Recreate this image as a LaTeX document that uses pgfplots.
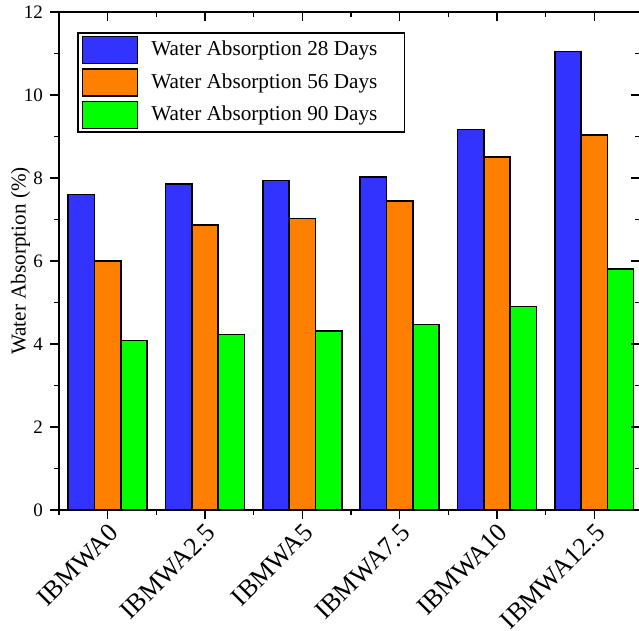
\documentclass[border=0pt]{standalone}
\usepackage{pgfplots}
\pgfplotsset{compat=1.18}
\usepackage{fontspec}
\setmainfont{Liberation Serif}
\usetikzlibrary{calc}
\definecolor{c28}{RGB}{51,51,255}
\definecolor{c56}{RGB}{255,128,0}
\definecolor{c90}{RGB}{0,255,0}

\begin{document}
\begin{tikzpicture}
\pgfplotsset{
  frame/.style={
    scale only axis, width=290.5pt, height=249pt,
    xmin=-0.5, xmax=5.47, ymin=0, ymax=12,
    xtick={0,...,5}, minor xtick={-0.5,0.5,...,5.5},
    ytick={0,2,...,12}, minor ytick={1,3,...,11},
    major tick length=4.5pt, minor tick length=2.5pt,
    axis line style={line width=0.75pt},
    every tick/.style={line width=0.75pt, black},
  },
  box legend/.style={legend image code/.code={
    \draw[##1, line width=0.7pt] (0pt,-6.75pt) rectangle (27.5pt,6.75pt);}},
}
\begin{axis}[frame, name=main,
    ybar, bar width=0.27,
    tick align=outside, xtick pos=left, ytick pos=left,
    xticklabels={IBMWA0,IBMWA2.5,IBMWA5,IBMWA7.5,IBMWA10,IBMWA12.5},
    xticklabel style={rotate=45, anchor=north east, inner sep=1pt,
      font=\fontsize{13}{15}\selectfont},
    yticklabel style={font=\fontsize{9.5}{11}\selectfont},
    /pgf/number format/assume math mode=true,
    ylabel={Water Absorption (\%)},
    ylabel style={font=\fontsize{10.6}{12}\selectfont},
    ylabel shift=-10pt,
    legend cell align=left,
    legend style={at={(0.031,0.96)}, anchor=north west, draw=black,
      line width=0.9pt, font=\fontsize{10.6}{12}\selectfont,
      inner xsep=2pt, inner ysep=1.5pt, row sep=2pt,
      nodes={inner xsep=6.5pt}},
  ]
  % 28 days
  \addplot[box legend, fill=c28, draw=black, line width=0.8pt, bar shift=-0.27]
    coordinates {(0,7.60) (1,7.85) (2,7.94) (3,8.03) (4,9.17) (5,11.05)};
  \addlegendentry{Water Absorption 28 Days\kern5pt}
  % 56 days
  \addplot[box legend, fill=c56, draw=black, line width=0.8pt, bar shift=0]
    coordinates {(0,6.00) (1,6.87) (2,7.02) (3,7.45) (4,8.51) (5,9.03)};
  \addlegendentry{Water Absorption 56 Days\kern5pt}
  % 90 days
  \addplot[box legend, fill=c90, draw=black, line width=0.8pt, bar shift=0.27]
    coordinates {(0,4.08) (1,4.23) (2,4.32) (3,4.47) (4,4.90) (5,5.80)};
  \addlegendentry{Water Absorption 90 Days\kern5pt}
\end{axis}
% inward ticks on top and right
\begin{axis}[frame, tick align=inside, xtick pos=right, ytick pos=right,
    xticklabels={}, yticklabels={}]
\end{axis}
\pgfresetboundingbox
\path[use as bounding box] ($(main.south west)+(-29.5pt,-60.5pt)$)
  rectangle ($(main.south west)+(290pt,255pt)$);
\end{tikzpicture}
\end{document}
